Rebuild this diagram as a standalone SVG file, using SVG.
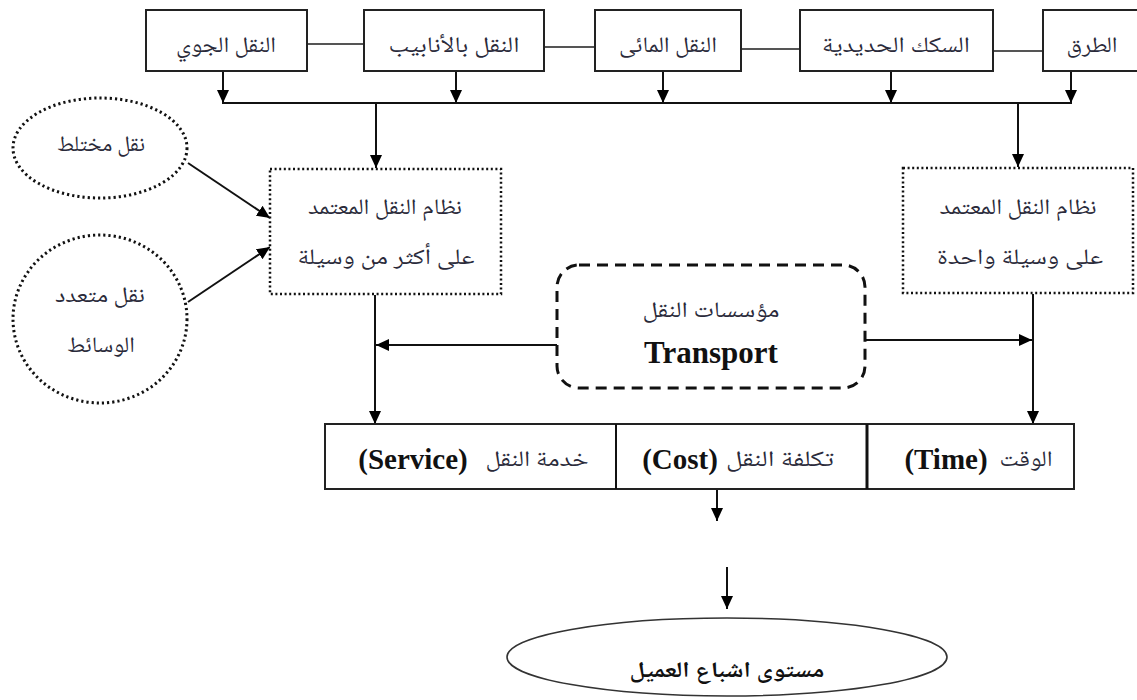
<svg xmlns="http://www.w3.org/2000/svg" width="1137" height="700" viewBox="0 0 1137 700">
<defs>
<marker id="ah" markerUnits="userSpaceOnUse" markerWidth="14" markerHeight="12" refX="13" refY="6" orient="auto">
<path d="M0,0 L13,6 L0,12 z" fill="#000"/>
</marker>
<style>
.box{fill:#fff;stroke:#222;stroke-width:2}
.dot{fill:#fff;stroke:#111;stroke-width:2.5;stroke-dasharray:2 2.6}
.dotE{fill:#fff;stroke:#111;stroke-width:3;stroke-dasharray:2.2 3}
.dash{fill:#fff;stroke:#111;stroke-width:3;stroke-dasharray:11 7}
.ar{font-family:"Noto Naskh Arabic","Noto Sans Arabic","DejaVu Sans",sans-serif;font-size:22px;fill:#2a2a3a;text-anchor:middle}
.arb{font-weight:bold;fill:#111}
.lat{font-family:"Liberation Serif","Times New Roman",serif;font-weight:bold;font-size:29px;fill:#111;text-anchor:middle}
.big{font-size:31px}
.ln{stroke:#111;stroke-width:2;fill:none}
.lg{stroke:#555;stroke-width:2;fill:none}
.arw{stroke:#111;stroke-width:2;fill:none;marker-end:url(#ah)}
</style>
</defs>
<rect width="1137" height="700" fill="#fff"/>

<g id="connectors">
<path class="lg" d="M307,44 H364"/>
<path class="lg" d="M544,47 H595"/>
<path class="lg" d="M741,49 H800"/>
<path class="lg" d="M993,51 H1043"/>
<path class="arw" d="M223,71 V103"/>
<path class="arw" d="M456,71 V103"/>
<path class="arw" d="M663,71 V103"/>
<path class="arw" d="M891,71 V103"/>
<path class="arw" d="M1071,71 V103"/>
<path class="ln" d="M222,103 H1072"/>
<path class="arw" d="M376,103 V168"/>
<path class="arw" d="M1018,103 V167"/>
<path class="arw" d="M188,163 L270,218"/>
<path class="arw" d="M188,302 L270,247"/>
<path class="arw" d="M375,295 V424"/>
<path class="arw" d="M1033,294 V424"/>
<path class="arw" d="M557,345 H376"/>
<path class="arw" d="M865,340 H1032"/>
<path class="arw" d="M717,489 V521"/>
<path class="arw" d="M727,567 V609"/>
</g>

<g id="air">
<rect class="box" x="146" y="10" width="161" height="61"/>
<text class="ar" x="226" y="52" textLength="100" lengthAdjust="spacingAndGlyphs">النقل الجوي</text>
</g>
<g id="pipeline">
<rect class="box" x="364" y="10" width="180" height="61"/>
<text class="ar" x="454" y="52" textLength="131" lengthAdjust="spacingAndGlyphs">النقل بالأنابيب</text>
</g>
<g id="water">
<rect class="box" x="595" y="10" width="146" height="61"/>
<text class="ar" x="668" y="52" textLength="98" lengthAdjust="spacingAndGlyphs">النقل المائى</text>
</g>
<g id="rail">
<rect class="box" x="800" y="10" width="193" height="61"/>
<text class="ar" x="896" y="52" textLength="148" lengthAdjust="spacingAndGlyphs">السكك الحديدية</text>
</g>
<g id="roads">
<rect class="box" x="1043" y="10" width="110" height="61"/>
<text class="ar" x="1092" y="52" textLength="51" lengthAdjust="spacingAndGlyphs">الطرق</text>
</g>

<g id="mixed">
<ellipse class="dotE" cx="100" cy="148" rx="87" ry="50"/>
<text class="ar" x="101" y="151" textLength="88" lengthAdjust="spacingAndGlyphs">نقل مختلط</text>
</g>
<g id="multimodal">
<ellipse class="dotE" cx="100" cy="319" rx="87" ry="84"/>
<text class="ar" x="100" y="302" textLength="90" lengthAdjust="spacingAndGlyphs">نقل متعدد</text>
<text class="ar" x="101" y="352" textLength="68" lengthAdjust="spacingAndGlyphs">الوسائط</text>
</g>

<g id="multi-system">
<rect class="dot" x="270" y="169" width="231" height="125"/>
<text class="ar" x="385" y="214" textLength="154" lengthAdjust="spacingAndGlyphs">نظام النقل المعتمد</text>
<text class="ar" x="386" y="264" textLength="177" lengthAdjust="spacingAndGlyphs">على أكثر من وسيلة</text>
</g>
<g id="single-system">
<rect class="dot" x="903" y="168" width="230" height="125"/>
<text class="ar" x="1018" y="214" textLength="157" lengthAdjust="spacingAndGlyphs">نظام النقل المعتمد</text>
<text class="ar" x="1020" y="264" textLength="166" lengthAdjust="spacingAndGlyphs">على  وسيلة واحدة</text>
</g>

<g id="transport">
<rect class="dash" x="557" y="265" width="308" height="123" rx="22"/>
<text class="ar" x="711" y="317" textLength="137" lengthAdjust="spacingAndGlyphs">مؤسسات النقل</text>
<text class="lat big" x="711" y="363">Transport</text>
</g>

<g id="factors">
<rect class="box" x="325" y="424" width="749" height="65"/>
<path class="ln" d="M616,424 V489"/>
<path d="M867,424 V489" stroke="#111" stroke-width="3"/>
<text class="lat" x="413" y="469">(Service)</text>
<text class="ar" x="537" y="466" textLength="103" lengthAdjust="spacingAndGlyphs">خدمة النقل</text>
<text class="lat" x="680" y="469">(Cost)</text>
<text class="ar" x="780" y="466" textLength="108" lengthAdjust="spacingAndGlyphs">تكلفة النقل</text>
<text class="lat" x="946" y="469">(Time)</text>
<text class="ar" x="1026" y="466" textLength="53" lengthAdjust="spacingAndGlyphs">الوقت</text>
</g>

<g id="satisfaction">
<ellipse cx="727" cy="657" rx="220" ry="39" fill="#fff" stroke="#333" stroke-width="1.6"/>
<text class="ar arb" x="727" y="677" textLength="195" lengthAdjust="spacingAndGlyphs">مستوى اشباع العميل</text>
</g>
</svg>
